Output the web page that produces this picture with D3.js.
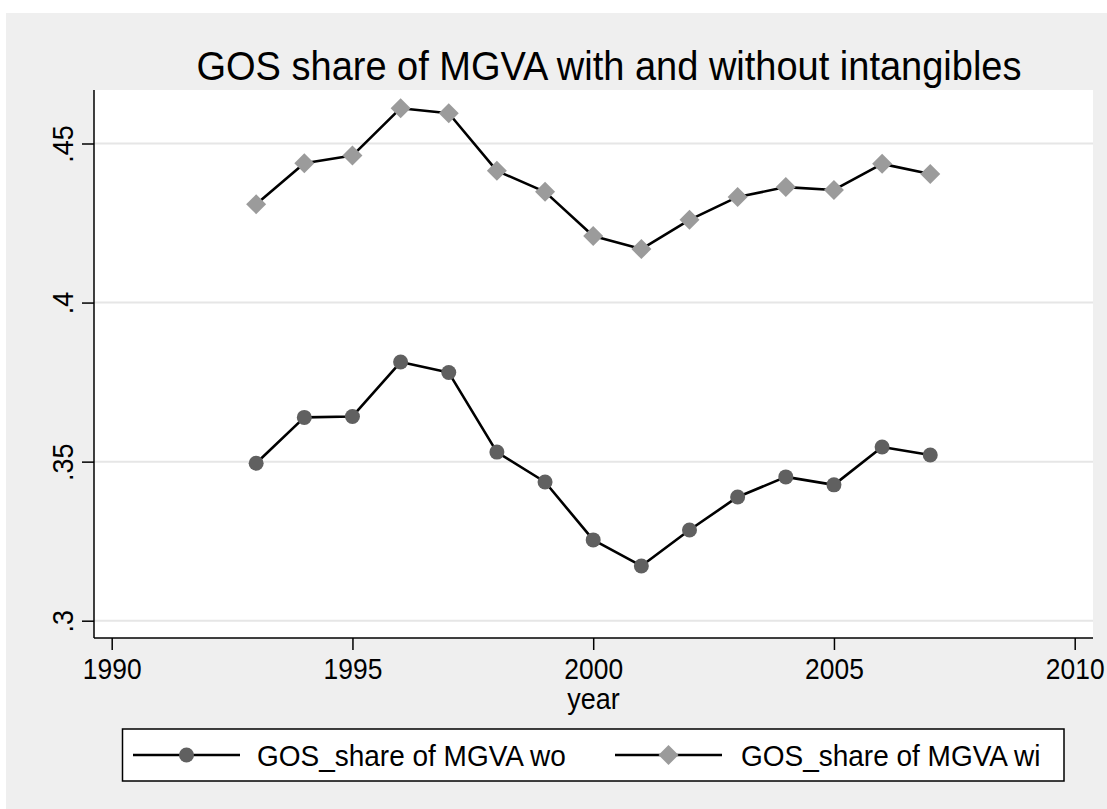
<!DOCTYPE html>
<html><head><meta charset="utf-8">
<script src="https://cdn.jsdelivr.net/npm/d3@7"></script>
<style>html,body{margin:0;padding:0;background:#fff;}svg{display:block;}</style>
</head><body>
<script>
const years = [1993,1994,1995,1996,1997,1998,1999,2000,2001,2002,2003,2004,2005,2006,2007];
const gosWo = [0.3495,0.3639,0.3642,0.3813,0.3780,0.3530,0.3436,0.3254,0.3172,0.3285,0.3389,0.3452,0.3427,0.3546,0.3521];
const gosWi = [0.4309,0.4438,0.4462,0.4611,0.4595,0.4414,0.4348,0.4209,0.4168,0.4260,0.4332,0.4363,0.4354,0.4436,0.4404];
const xTicks = [1990,1995,2000,2005,2010];
const yTicks = [0.3,0.35,0.4,0.45];
const yTickLabels = [".3",".35",".4",".45"];
const seriesNames = ["GOS_share of MGVA wo","GOS_share of MGVA wi"];
const titleText = "GOS share of MGVA with and without intangibles";
const xTitle = "year";

const W = 1107, H = 809;
const svg = d3.select("body").append("svg").attr("width", W).attr("height", H);
const font = "'Liberation Sans', Arial, Helvetica, sans-serif";

svg.append("rect").attr("x", 6).attr("y", 13).attr("width", W - 6).attr("height", H - 13).attr("fill", "#efefef");

const plot = {l: 94, r: 1093, t: 90, b: 638};
svg.append("rect").attr("x", plot.l).attr("y", plot.t).attr("width", plot.r - plot.l).attr("height", plot.b - plot.t).attr("fill", "#fff");

const x = d3.scaleLinear().domain([1990, 2010]).range([111.7, 1074.7]);
const y = d3.scaleLinear().domain([0.3, 0.45]).range([620.7, 143.5]);

// grid
svg.append("g").selectAll("line").data(yTicks).join("line")
  .attr("x1", plot.l).attr("x2", plot.r)
  .attr("y1", d => y(d)).attr("y2", d => y(d))
  .attr("stroke", "#e6e6e6").attr("stroke-width", 2);

// axes
const yAxis = svg.append("g").attr("transform", `translate(${plot.l},0)`)
  .call(d3.axisLeft(y).tickValues(yTicks).tickSize(12).tickFormat((d, i) => yTickLabels[i]));
yAxis.select(".domain").attr("d", `M0,${plot.t}V${plot.b}`).attr("stroke", "#000").attr("stroke-width", 1.5);
yAxis.selectAll(".tick line").attr("stroke", "#000").attr("stroke-width", 1.5);
yAxis.selectAll(".tick text").attr("font-family", font).attr("font-size", 29).attr("fill", "#000")
  .attr("transform", "rotate(-90) scale(0.93,1)").attr("x", 0).attr("y", -21).attr("dy", 0)
  .attr("text-anchor", "middle");

const xAxis = svg.append("g").attr("transform", `translate(0,${plot.b})`)
  .call(d3.axisBottom(x).tickValues(xTicks).tickSize(12).tickFormat(d3.format("d")));
xAxis.select(".domain").attr("d", `M${plot.l},0H${plot.r}`).attr("stroke", "#000").attr("stroke-width", 1.5);
xAxis.selectAll(".tick line").attr("stroke", "#000").attr("stroke-width", 1.5);
xAxis.selectAll(".tick text").attr("font-family", font).attr("font-size", 29).attr("fill", "#000")
  .attr("y", 0).attr("dy", 0).attr("transform", "translate(0,41) scale(0.91,1)");

svg.append("text").attr("transform", `translate(${(plot.l + plot.r) / 2},709) scale(0.93,1)`).attr("text-anchor", "middle")
  .attr("font-family", font).attr("font-size", 29).text(xTitle);

svg.append("text").attr("transform", "translate(609,80) scale(0.927,1)").attr("text-anchor", "middle")
  .attr("font-family", font).attr("font-size", 41).text(titleText);

// lines
const line = d3.line().x(d => x(d[0])).y(d => y(d[1]));
const dWo = years.map((yr, i) => [yr, gosWo[i]]);
const dWi = years.map((yr, i) => [yr, gosWi[i]]);
[dWo, dWi].forEach(d => svg.append("path").datum(d).attr("d", line)
  .attr("fill", "none").attr("stroke", "#000").attr("stroke-width", 2.6).attr("stroke-linejoin", "round"));

const circleColor = "#606060", diamondColor = "#9b9b9b";
const diamond = (cx, cy, r) => `M${cx},${cy - r}L${cx + r},${cy}L${cx},${cy + r}L${cx - r},${cy}Z`;
svg.append("g").selectAll("circle").data(dWo).join("circle")
  .attr("cx", d => x(d[0])).attr("cy", d => y(d[1])).attr("r", 7.5).attr("fill", circleColor);
svg.append("g").selectAll("path").data(dWi).join("path")
  .attr("d", d => diamond(x(d[0]), y(d[1]), 10)).attr("fill", diamondColor);

// legend
const lg = svg.append("g");
lg.append("rect").attr("x", 122.5).attr("y", 729).attr("width", 941.5).attr("height", 52)
  .attr("fill", "#fff").attr("stroke", "#000").attr("stroke-width", 1.5);
const legItems = [
  {x1: 133, x2: 240, name: seriesNames[0], tx: 257, kind: "c"},
  {x1: 615, x2: 722, name: seriesNames[1], tx: 741, kind: "d"}
];
legItems.forEach(it => {
  lg.append("line").attr("x1", it.x1).attr("x2", it.x2).attr("y1", 755).attr("y2", 755)
    .attr("stroke", "#000").attr("stroke-width", 2.6);
  const cx = (it.x1 + it.x2) / 2;
  if (it.kind === "c") lg.append("circle").attr("cx", cx).attr("cy", 755).attr("r", 7.5).attr("fill", circleColor);
  else lg.append("path").attr("d", diamond(cx, 755, 10)).attr("fill", diamondColor);
  lg.append("text").attr("transform", `translate(${it.tx},766) scale(0.965,1)`).attr("font-family", font).attr("font-size", 29).text(it.name);
});
</script>
</body></html>
